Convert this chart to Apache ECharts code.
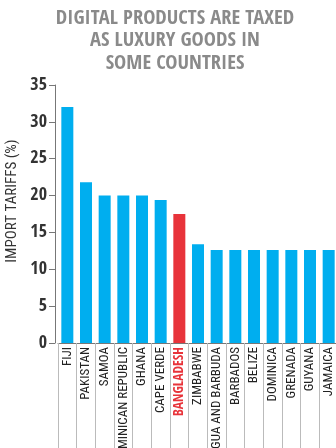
<!DOCTYPE html>
<html><head><meta charset="utf-8">
<script src="https://cdn.jsdelivr.net/npm/echarts@6/dist/echarts.min.js"></script>
<style>html,body{margin:0;padding:0;background:#fff}#c{width:336px;height:448px}</style>
</head><body><div id="c"></div>
<script>
const titleLines = ['DIGITAL PRODUCTS ARE TAXED', 'AS LUXURY GOODS IN', 'SOME COUNTRIES'];
const categories = ['FIJI','PAKISTAN','SAMOA','DOMINICAN REPUBLIC','GHANA','CAPE VERDE','BANGLADESH','ZIMBABWE','ANTIGUA AND BARBUDA','BARBADOS','BELIZE','DOMINICA','GRENADA','GUYANA','JAMAICA'];
const tariffs = [32, 21.8, 20, 20, 20, 19.4, 17.5, 13.4, 12.6, 12.6, 12.6, 12.6, 12.6, 12.6, 12.6];
const highlight = 'BANGLADESH';
const yTicks = [0, 5, 10, 15, 20, 25, 30, 35];
const yName = 'IMPORT TARIFFS (%)';

const BOLD = '"Open Sans Condensed","Roboto Condensed",sans-serif';
const REG = '"Roboto Condensed","DejaVu Sans Condensed",sans-serif';
const chart = echarts.init(document.getElementById('c'), null, {renderer:'canvas'});
chart.setOption({
  animation: false,
  title: {
    text: titleLines.join('\n'),
    left: 170, top: 2, textAlign: 'center',
    textStyle: {fontFamily: BOLD, fontWeight: 'bold', fontSize: 20.5, color: '#8a8a8a', lineHeight: 22.5}
  },
  grid: {left: 58, right: -2, top: 85, bottom: 105, containLabel: false, outerBoundsMode: 'none'},
  xAxis: {
    type: 'category', data: categories,
    axisLine: {show: true, lineStyle: {color: '#777', width: 1}},
    axisTick: {show: true, interval: 0, length: 110, lineStyle: {color: '#bbb'}},
    axisLabel: {
      interval: 0, rotate: 90, margin: 4, fontFamily: REG, fontSize: 13, fontWeight: 'normal', color: '#222',
      formatter: v => v === highlight ? '{h|' + v + '}' : v,
      rich: {h: {fontFamily: BOLD, fontSize: 13.5, fontWeight: 'bold', color: '#e8333a'}}
    }
  },
  yAxis: {
    type: 'value', min: yTicks[0], max: yTicks[yTicks.length-1], interval: 5, offset: 3,
    name: yName, nameLocation: 'middle', nameGap: 35, nameRotate: 90,
    nameTextStyle: {fontFamily: REG, fontSize: 15, fontWeight: 'normal', color: '#333', padding: [0, 0, 0, 26]},
    axisLine: {show: true, lineStyle: {color: '#777'}},
    axisTick: {show: true, length: 6, lineStyle: {color: '#777'}},
    splitLine: {show: false},
    axisLabel: {fontFamily: BOLD, fontSize: 18, fontWeight: 'bold', color: '#333', margin: 8}
  },
  series: [{
    type: 'bar', barWidth: 12,
    data: tariffs.map((v, i) => ({value: v, itemStyle: {color: categories[i] === highlight ? '#e8333a' : '#00aeef'}}))
  }]
});
</script></body></html>
